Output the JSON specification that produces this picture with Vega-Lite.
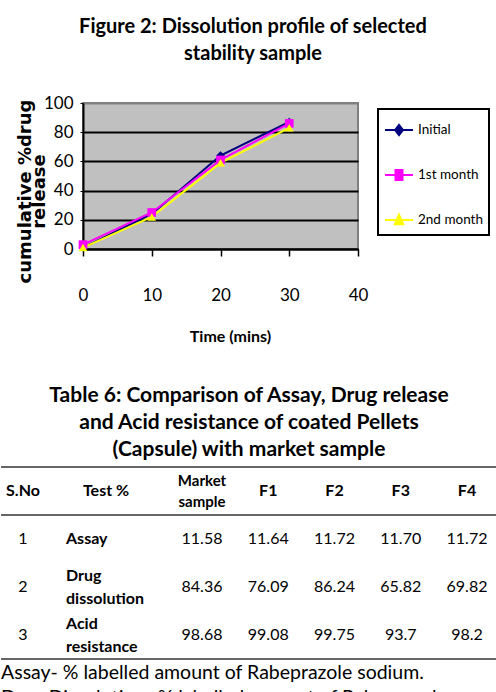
{
  "$schema": "https://vega.github.io/schema/vega-lite/v6.json",
  "background": "white",
  "padding": {"left": 0, "right": 0, "top": 16, "bottom": 0},
  "spacing": 40,
  "config": {"font": "Lato"},
  "datasets": {
    "dissolution": [
      {"time": 0, "release": 1, "series": "Initial"},
      {"time": 10, "release": 24, "series": "Initial"},
      {"time": 20, "release": 64, "series": "Initial"},
      {"time": 30, "release": 87, "series": "Initial"},
      {"time": 0, "release": 3, "series": "1st month"},
      {"time": 10, "release": 25, "series": "1st month"},
      {"time": 20, "release": 61, "series": "1st month"},
      {"time": 30, "release": 86, "series": "1st month"},
      {"time": 0, "release": 1, "series": "2nd month"},
      {"time": 10, "release": 22, "series": "2nd month"},
      {"time": 20, "release": 59, "series": "2nd month"},
      {"time": 30, "release": 83, "series": "2nd month"}
    ],
    "table": [
      {"row": "h", "col": "S.No", "text": "S.No"},
      {"row": "h", "col": "Test %", "text": "Test %"},
      {"row": "h", "col": "Market sample", "text": "Market\nsample"},
      {"row": "h", "col": "F1", "text": "F1"},
      {"row": "h", "col": "F2", "text": "F2"},
      {"row": "h", "col": "F3", "text": "F3"},
      {"row": "h", "col": "F4", "text": "F4"},
      {"row": "1", "col": "S.No", "text": "1"},
      {"row": "1", "col": "Test %", "text": "Assay"},
      {"row": "1", "col": "Market sample", "text": "11.58"},
      {"row": "1", "col": "F1", "text": "11.64"},
      {"row": "1", "col": "F2", "text": "11.72"},
      {"row": "1", "col": "F3", "text": "11.70"},
      {"row": "1", "col": "F4", "text": "11.72"},
      {"row": "2", "col": "S.No", "text": "2"},
      {"row": "2", "col": "Test %", "text": "Drug\ndissolution"},
      {"row": "2", "col": "Market sample", "text": "84.36"},
      {"row": "2", "col": "F1", "text": "76.09"},
      {"row": "2", "col": "F2", "text": "86.24"},
      {"row": "2", "col": "F3", "text": "65.82"},
      {"row": "2", "col": "F4", "text": "69.82"},
      {"row": "3", "col": "S.No", "text": "3"},
      {"row": "3", "col": "Test %", "text": "Acid\nresistance"},
      {"row": "3", "col": "Market sample", "text": "98.68"},
      {"row": "3", "col": "F1", "text": "99.08"},
      {"row": "3", "col": "F2", "text": "99.75"},
      {"row": "3", "col": "F3", "text": "93.7"},
      {"row": "3", "col": "F4", "text": "98.2"}
    ],
    "notes": [
      {"row": "f", "col": "S.No", "text": "Assay- % labelled amount of Rabeprazole sodium.\nDrug Dissolution- % labelled amount of Rabeprazole"}
    ],
    "lines": [
      {"row": "h", "col": "S.No"},
      {"row": "1", "col": "S.No"},
      {"row": "f", "col": "S.No"}
    ]
  },
  "vconcat": [
    {
      "width": 275,
      "height": 146,
      "view": {"fill": "#c0c0c0", "stroke": "#808080", "strokeWidth": 2},
      "title": {
        "text": ["Figure 2: Dissolution profile of selected", "stability sample"],
        "font": "Lato", "fontSize": 20, "fontWeight": "bold", "lineHeight": 27,
        "anchor": "middle", "frame": "bounds", "offset": 30, "color": "black"
      },
      "data": {"name": "dissolution"},
      "encoding": {
        "x": {
          "field": "time", "type": "quantitative",
          "scale": {"domain": [0, 40], "nice": false},
          "axis": {
            "values": [0, 10, 20, 30, 40],
            "title": "Time (mins)",
            "titleFont": "Lato",
            "titleFontSize": 16, "titleFontWeight": "bold", "titleColor": "black",
            "titlePadding": 25, "titleX": 147,
            "labelFont": "Lato",
            "labelFontSize": 17, "labelColor": "black", "labelPadding": 31,
            "labelFlush": false, "labelOverlap": false,
            "tickSize": 7, "tickColor": "black", "tickWidth": 1.5,
            "domainColor": "black", "domainWidth": 2, "grid": false
          }
        },
        "y": {
          "field": "release", "type": "quantitative",
          "scale": {"domain": [0, 100], "nice": false},
          "axis": {
            "values": [0, 20, 40, 60, 80, 100],
            "title": ["cumulative  %drug", "release"],
            "titleFont": "DejaVu Sans", "titleFontSize": 18, "titleFontWeight": "bold",
            "titleColor": "black", "titleLineHeight": 14, "titleX": -49, "titleY": 88,
            "labelFont": "Lato",
            "labelFontSize": 17, "labelColor": "black", "labelPadding": 7,
            "tickSize": 3, "tickColor": "black",
            "domainColor": "black", "domainWidth": 2,
            "grid": true, "gridWidth": 2,
            "gridColor": {"condition": {"test": "datum.value == 100", "value": "#808080"}, "value": "black"}
          }
        }
      },
      "layer": [
        {
          "mark": {"type": "line", "strokeWidth": 2},
          "encoding": {
            "stroke": {
              "field": "series", "type": "nominal",
              "scale": {"domain": ["Initial", "1st month", "2nd month"], "range": ["#000080", "#ff00ff", "#ffff00"]},
              "legend": null
            }
          }
        },
        {
          "mark": {"type": "point", "filled": true, "opacity": 1, "size": 75},
          "encoding": {
            "fill": {
              "field": "series", "type": "nominal",
              "scale": {"domain": ["Initial", "1st month", "2nd month"], "range": ["#000080", "#ff00ff", "#ffff00"]},
              "legend": null
            },
            "shape": {
              "field": "series", "type": "nominal",
              "scale": {"domain": ["Initial", "1st month", "2nd month"], "range": ["diamond", "square", "triangle-up"]},
              "legend": null
            }
          }
        },
        {
          "transform": [{"filter": "false"}],
          "mark": {"type": "point", "filled": true, "opacity": 1},
          "encoding": {
            "fill": {
              "field": "series", "type": "nominal",
              "scale": {"domain": ["Initial", "1st month", "2nd month"], "range": ["#000080", "#ff00ff", "#ffff00"]},
              "legend": {
                "orient": "none", "legendX": 295, "legendY": 6, "title": null,
                "symbolSize": 784, "symbolStrokeWidth": 2, "symbolOpacity": 1,
                "labelFont": "Lato",
                "labelFontSize": 13.5, "labelColor": "black", "labelOffset": 4,
                "rowPadding": 20, "padding": 6,
                "strokeColor": "black", "fillColor": "white",
                "encode": {"legend": {"update": {"strokeWidth": {"value": 2}}}}
              }
            },
            "stroke": {
              "field": "series", "type": "nominal",
              "scale": {"domain": ["Initial", "1st month", "2nd month"], "range": ["#000080", "#ff00ff", "#ffff00"]}
            },
            "shape": {
              "field": "series", "type": "nominal",
              "scale": {
                "domain": ["Initial", "1st month", "2nd month"],
                "range": [
                  "M-1,0H1M0,-0.36L0.28,0L0,0.36L-0.28,0Z",
                  "M-1,0H1M-0.25,-0.36H0.25V0.36H-0.25Z",
                  "M-1,0H1M0,-0.38L0.3,0.3H-0.3Z"
                ]
              }
            }
          }
        }
      ],
      "resolve": {"scale": {"shape": "independent", "fill": "independent", "stroke": "independent"}}
    },
    {
      "width": 414,
      "height": 240,
      "view": {"stroke": null},
      "title": {
        "text": ["Table 6: Comparison of Assay, Drug release", "and Acid resistance of coated Pellets", "(Capsule) with market sample"],
        "font": "Lato", "fontSize": 21, "fontWeight": "bold", "lineHeight": 27,
        "anchor": "middle", "frame": "bounds", "offset": 6, "color": "black"
      },
      "encoding": {
        "y": {
          "field": "row", "type": "nominal",
          "scale": {"type": "band", "domain": ["h", "1", "2", "3", "f"], "paddingInner": 0, "paddingOuter": 0},
          "axis": null
        }
      },
      "layer": [
        {
          "data": {"name": "lines"},
          "mark": {"type": "rule", "color": "#333333", "strokeWidth": 1.3},
          "encoding": {
            "x": {"field": "col", "type": "nominal", "bandPosition": 0, "scale": {"type": "band", "domain": ["S.No", "Test %"], "rangeMin": -82, "rangeMax": 45, "paddingInner": 0.47, "paddingOuter": 0}, "axis": null},
            "x2": {"value": "width"},
            "y": {
              "field": "row", "type": "nominal", "bandPosition": 0,
              "scale": {"type": "band", "domain": ["h", "1", "2", "3", "f"], "paddingInner": 0, "paddingOuter": 0},
              "axis": null
            }
          }
        },
        {
          "data": {"name": "table"},
          "transform": [{"filter": {"and": [{"field": "row", "equal": "h"}, {"field": "col", "oneOf": ["S.No", "Test %"]}]}}],
          "mark": {"type": "text", "font": "Lato", "fontSize": 16, "fontWeight": "bold", "color": "black"},
          "encoding": {
            "x": {"field": "col", "type": "nominal", "scale": {"type": "band", "domain": ["S.No", "Test %"], "rangeMin": -82, "rangeMax": 45, "paddingInner": 0.47, "paddingOuter": 0}, "axis": null},
            "text": {"field": "text"}
          }
        },
        {
          "data": {"name": "table"},
          "transform": [{"filter": {"and": [{"not": {"field": "row", "equal": "h"}}, {"field": "col", "equal": "S.No"}]}}],
          "mark": {"type": "text", "font": "Lato", "fontSize": 16, "color": "black"},
          "encoding": {
            "x": {"field": "col", "type": "nominal", "scale": {"type": "band", "domain": ["S.No", "Test %"], "rangeMin": -82, "rangeMax": 45, "paddingInner": 0.47, "paddingOuter": 0}, "axis": null},
            "text": {"field": "text"}
          }
        },
        {
          "data": {"name": "table"},
          "transform": [{"filter": {"and": [{"field": "row", "equal": "1"}, {"field": "col", "equal": "Test %"}]}}],
          "mark": {"type": "text", "font": "Lato", "fontSize": 16, "fontWeight": "bold", "color": "black", "align": "left", "dx": -40},
          "encoding": {
            "x": {"field": "col", "type": "nominal", "scale": {"type": "band", "domain": ["S.No", "Test %"], "rangeMin": -82, "rangeMax": 45, "paddingInner": 0.47, "paddingOuter": 0}, "axis": null},
            "text": {"field": "text"}
          }
        },
        {
          "data": {"name": "table"},
          "transform": [{"filter": {"and": [{"field": "row", "oneOf": ["2", "3"]}, {"field": "col", "equal": "Test %"}]}}],
          "mark": {"type": "text", "font": "Lato", "fontSize": 16, "fontWeight": "bold", "color": "black", "align": "left", "dx": -40, "dy": -11.5, "lineBreak": "\n", "lineHeight": 23},
          "encoding": {
            "x": {"field": "col", "type": "nominal", "scale": {"type": "band", "domain": ["S.No", "Test %"], "rangeMin": -82, "rangeMax": 45, "paddingInner": 0.47, "paddingOuter": 0}, "axis": null},
            "text": {"field": "text"}
          }
        },
        {
          "data": {"name": "table"},
          "transform": [{"filter": {"and": [{"field": "row", "equal": "h"}, {"field": "col", "equal": "Market sample"}]}}],
          "mark": {"type": "text", "font": "Lato", "fontSize": 15, "fontWeight": "bold", "color": "black", "dy": -10.5, "lineBreak": "\n", "lineHeight": 21},
          "encoding": {
            "x": {"field": "col", "type": "nominal", "scale": {"type": "point", "domain": ["Market sample", "F1", "F2", "F3", "F4"], "rangeMin": 119, "rangeMax": 384, "padding": 0}, "axis": null},
            "text": {"field": "text"}
          }
        },
        {
          "data": {"name": "table"},
          "transform": [{"filter": {"and": [{"field": "row", "equal": "h"}, {"field": "col", "oneOf": ["F1", "F2", "F3", "F4"]}]}}],
          "mark": {"type": "text", "font": "Lato", "fontSize": 16, "fontWeight": "bold", "color": "black"},
          "encoding": {
            "x": {"field": "col", "type": "nominal", "scale": {"type": "point", "domain": ["Market sample", "F1", "F2", "F3", "F4"], "rangeMin": 119, "rangeMax": 384, "padding": 0}, "axis": null},
            "text": {"field": "text"}
          }
        },
        {
          "data": {"name": "table"},
          "transform": [{"filter": {"and": [{"not": {"field": "row", "equal": "h"}}, {"not": {"field": "col", "oneOf": ["S.No", "Test %"]}}]}}],
          "mark": {"type": "text", "font": "Lato", "fontSize": 16, "color": "black"},
          "encoding": {
            "x": {"field": "col", "type": "nominal", "scale": {"type": "point", "domain": ["Market sample", "F1", "F2", "F3", "F4"], "rangeMin": 119, "rangeMax": 384, "padding": 0}, "axis": null},
            "text": {"field": "text"}
          }
        },
        {
          "data": {"name": "notes"},
          "mark": {"type": "text", "font": "Lato", "fontSize": 19.5, "color": "black", "align": "left", "baseline": "top", "dy": 5, "lineBreak": "\n", "lineHeight": 25},
          "encoding": {
            "x": {"field": "col", "type": "nominal", "bandPosition": 0, "scale": {"type": "band", "domain": ["S.No", "Test %"], "rangeMin": -82, "rangeMax": 45, "paddingInner": 0.47, "paddingOuter": 0}, "axis": null},
            "y": {
              "field": "row", "type": "nominal", "bandPosition": 0,
              "scale": {"type": "band", "domain": ["h", "1", "2", "3", "f"], "paddingInner": 0, "paddingOuter": 0},
              "axis": null
            },
            "text": {"field": "text"}
          }
        }
      ],
      "resolve": {"scale": {"x": "independent"}}
    }
  ]
}
